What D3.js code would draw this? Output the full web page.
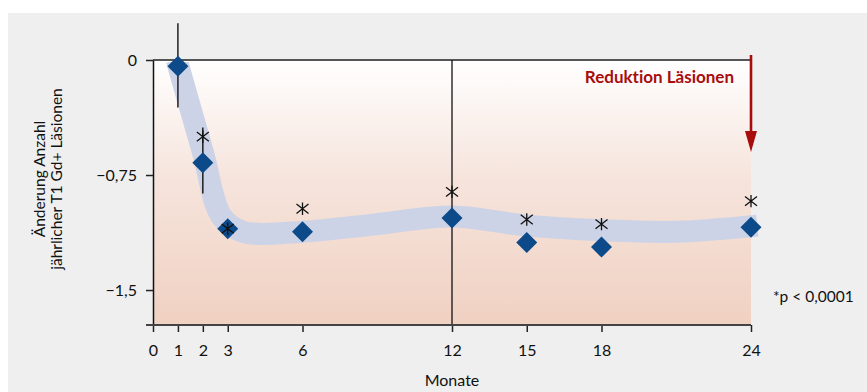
<!DOCTYPE html>
<html><head><meta charset="utf-8">
<script src="https://cdn.jsdelivr.net/npm/d3@7"></script>
<style>
html,body{margin:0;padding:0;background:#fff;}
svg{display:block;font-family:Lato,"Open Sans",sans-serif;font-variant-ligatures:none;font-feature-settings:"liga" 0;}
</style></head>
<body><svg id="c" width="867" height="392"></svg>
<script>
// ---- data ----
const months = [1, 2, 3, 6, 12, 15, 18, 24];
const meanChange = [-0.04, -0.67, -1.10, -1.12, -1.03, -1.19, -1.22, -1.09];
const starMonths = [2, 3, 6, 12, 15, 18, 24];
const starValues = [-0.50, -1.10, -0.97, -0.86, -1.04, -1.07, -0.92];
const errMonths = [1, 2];
const errHigh = [0.24, -0.44];
const errLow = [-0.31, -0.87];
const trendMonths = [0.95, 2, 2.75, 3.6, 6, 9, 12, 15, 18, 21, 24.25];
const trendValues = [0.0, -0.6, -1.02, -1.12, -1.12, -1.07, -1.02, -1.08, -1.11, -1.12, -1.08];
const xTicks = [0, 1, 2, 3, 6, 12, 15, 18, 24];
const yTicks = [0, -0.75, -1.5];
const yTickLabels = ["0", "\u22120,75", "\u22121,5"];
const yTitle = ["Änderung Anzahl", "jährlicher T1 Gd+ Läsionen"];
const xTitle = "Monate";
const arrowLabel = "Reduktion Läsionen";
const note = "*p < 0,0001";

const svg = d3.select("#c");
const W = 867, H = 392;
const x = d3.scaleLinear().domain([0, 24]).range([153, 751]);
const y = d3.scaleLinear().domain([0, -1.728]).range([60, 325]);
const [y0, y1] = y.range();

// panel
svg.append("rect").attr("x", 8).attr("y", 13).attr("width", W - 8).attr("height", H - 13).attr("fill", "#efefef");

// gradient
const defs = svg.append("defs");
const g = defs.append("linearGradient").attr("id", "bg").attr("x1", 0).attr("y1", 0).attr("x2", 0).attr("y2", 1);
g.append("stop").attr("offset", "0%").attr("stop-color", "#ffffff");
g.append("stop").attr("offset", "45%").attr("stop-color", "#f6e4dc");
g.append("stop").attr("offset", "100%").attr("stop-color", "#f0d1c2");
defs.append("clipPath").attr("id", "clip").append("rect")
  .attr("x", x(0)).attr("y", y0 + 2).attr("width", x(24) - x(0) + 20).attr("height", y1 - y0);

svg.append("rect").attr("x", x(0)).attr("y", y0).attr("width", x(24) - x(0)).attr("height", y1 - y0).attr("fill", "url(#bg)");

// trend band
const trend = trendMonths.map((m, i) => [m, trendValues[i]]);
svg.append("path").attr("clip-path", "url(#clip)")
  .attr("d", d3.line().x(d => x(d[0])).y(d => y(d[1])).curve(d3.curveCatmullRom.alpha(0.5))(trend))
  .attr("fill", "none").attr("stroke", "#cdd3e6").attr("stroke-width", 22);

// top border line
svg.append("line").attr("x1", x(0)).attr("x2", x(24)).attr("y1", y0).attr("y2", y0)
  .attr("stroke", "#555").attr("stroke-width", 2);

// vertical reference line at 12
svg.append("line").attr("x1", x(12)).attr("x2", x(12)).attr("y1", y0).attr("y2", y1)
  .attr("stroke", "#111").attr("stroke-width", 1.3);

// y axis
const ya = svg.append("g").attr("transform", `translate(${x(0)},0)`)
  .call(d3.axisLeft(y).tickValues(yTicks).tickFormat((d, i) => yTickLabels[i]).tickSize(7).tickSizeOuter(0).tickPadding(9));
ya.select(".domain").attr("stroke", "#111").attr("stroke-width", 1.5);
ya.selectAll(".tick line").attr("stroke", "#222").attr("stroke-width", 1.5);
ya.selectAll("text").attr("font-size", 16).attr("fill", "#111").attr("font-family", "Lato");

// x axis
const xa = svg.append("g").attr("transform", `translate(0,${y1})`)
  .call(d3.axisBottom(x).tickValues(xTicks).tickFormat(d3.format("d")).tickSize(7).tickSizeOuter(0).tickPadding(13));
xa.select(".domain").remove();
xa.append("line").attr("x1", x(0) - 7).attr("x2", x(24)).attr("y1", 0).attr("y2", 0)
  .attr("stroke", "#444").attr("stroke-width", 2);
xa.selectAll(".tick line").attr("stroke", "#222").attr("stroke-width", 1.5);
xa.selectAll("text").attr("font-size", 16).attr("fill", "#111").attr("font-family", "Lato");

// titles
svg.append("text").attr("x", x(12)).attr("y", 386).attr("text-anchor", "middle")
  .attr("font-size", 16).attr("fill", "#111").text(xTitle);
const yt = svg.append("text").attr("transform", "translate(45,179) rotate(-90)")
  .attr("text-anchor", "middle").attr("font-size", 15.5).attr("fill", "#111");
yTitle.forEach((t, i) => yt.append("tspan").attr("x", 0).attr("dy", i ? 17 : 0).text(t));

// error bars
svg.selectAll(".err").data(errMonths).join("line")
  .attr("x1", d => x(d)).attr("x2", d => x(d))
  .attr("y1", (d, i) => y(errHigh[i])).attr("y2", (d, i) => y(errLow[i]))
  .attr("stroke", "#111").attr("stroke-width", 1.4);

// diamonds
const r = 10.5;
svg.selectAll(".dia").data(months).join("path")
  .attr("transform", (d, i) => `translate(${x(d)},${y(meanChange[i])})`)
  .attr("d", `M0,${-r}L${r},0L0,${r}L${-r},0Z`)
  .attr("fill", "#0c4a89");

// stars
const s = 6.2;
const starPath = `M0,${-s}L0,${s}M${-s * 0.97},${-s * 0.75}L${s * 0.97},${s * 0.75}M${-s * 0.97},${s * 0.75}L${s * 0.97},${-s * 0.75}`;
svg.selectAll(".star").data(starMonths).join("path")
  .attr("transform", (d, i) => `translate(${x(d)},${y(starValues[i])})`)
  .attr("d", starPath).attr("stroke", "#111").attr("stroke-width", 1.3).attr("fill", "none");

// red arrow
const red = "#a80d0d";
const ax = x(24), aTop = y0 - 5, aTip = y(-0.6);
svg.append("line").attr("x1", ax).attr("x2", ax).attr("y1", aTop).attr("y2", aTip - 15)
  .attr("stroke", red).attr("stroke-width", 2.6);
svg.append("path").attr("d", `M${ax - 6},${aTip - 21}L${ax + 6},${aTip - 21}L${ax},${aTip}Z`).attr("fill", red);
svg.append("text").attr("x", ax - 17).attr("y", y0 + 23).attr("text-anchor", "end")
  .attr("font-size", 17).attr("font-weight", "bold").attr("fill", red).text(arrowLabel);

// note
svg.append("text").attr("x", 773).attr("y", 302).attr("font-size", 15.5).attr("fill", "#111").text(note);
</script></body></html>
